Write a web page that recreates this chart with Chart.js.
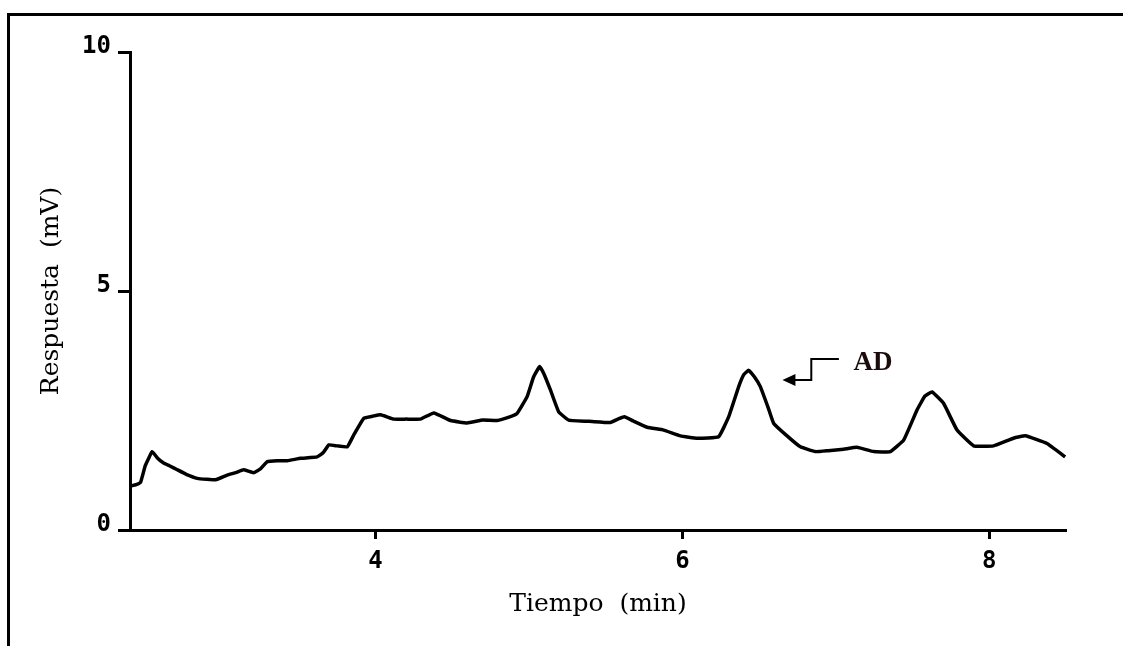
<!DOCTYPE html>
<html lang="es">
<head>
    <meta charset="UTF-8">
    <title>Respuesta vs Tiempo</title>
    <script src="https://cdn.jsdelivr.net/npm/chart.js"></script>
    <style>
        html, body { margin: 0; padding: 0; background: #fff; }
        #wrap { position: relative; width: 1123px; height: 646px; overflow: hidden; }
        #frame { position: absolute; left: 7px; top: 13px; right: -10px; bottom: -10px;
                 border-top: 3px solid #000; border-left: 3px solid #000; }
        canvas { position: absolute; left: 0; top: 0; }
    </style>
</head>
<body>
    <div id="wrap">
        <div id="frame"></div>
        <canvas id="chrom" width="1123" height="646"></canvas>
    </div>

    <script>
        // Chromatogram trace
        const timeMin = [
            2.404, 2.44, 2.469, 2.50, 2.545, 2.58, 2.619, 2.66, 2.708, 2.77,
            2.839, 2.90, 2.958, 3.034, 3.09, 3.14, 3.205, 3.25, 3.295, 3.36,
            3.425, 3.512, 3.62, 3.66, 3.696, 3.75, 3.816, 3.86, 3.924, 3.98,
            4.033, 4.119, 4.20, 4.293, 4.38, 4.489, 4.597, 4.70, 4.793, 4.87,
            4.923, 4.988, 5.03, 5.07, 5.10, 5.14, 5.194, 5.259, 5.412, 5.531,
            5.58, 5.622, 5.68, 5.77, 5.878, 5.987, 6.096, 6.236, 6.302, 6.367,
            6.40, 6.432, 6.47, 6.508, 6.56, 6.595, 6.682, 6.769, 6.866, 6.95,
            7.051, 7.138, 7.246, 7.355, 7.442, 7.529, 7.58, 7.627, 7.702, 7.79,
            7.898, 8.028, 8.158, 8.235, 8.376, 8.495
        ];
        const responseMv = [
            0.92, 0.95, 1.00, 1.35, 1.64, 1.50, 1.40, 1.34, 1.26, 1.16,
            1.08, 1.06, 1.05, 1.15, 1.20, 1.26, 1.20, 1.28, 1.43, 1.45,
            1.45, 1.50, 1.53, 1.62, 1.78, 1.76, 1.74, 2.00, 2.34, 2.38,
            2.41, 2.32, 2.32, 2.32, 2.45, 2.29, 2.24, 2.30, 2.29, 2.36,
            2.44, 2.79, 3.20, 3.42, 3.25, 2.93, 2.47, 2.30, 2.27, 2.25,
            2.32, 2.37, 2.28, 2.15, 2.09, 1.97, 1.92, 1.95, 2.37, 3.00,
            3.25, 3.34, 3.20, 3.00, 2.55, 2.23, 1.97, 1.74, 1.64, 1.66,
            1.69, 1.73, 1.64, 1.64, 1.88, 2.51, 2.80, 2.89, 2.65, 2.09,
            1.76, 1.76, 1.92, 1.97, 1.81, 1.53
        ];
        const xTicks = [4, 6, 8];
        const yTicks = [0, 5, 10];

        // "AD" callout, in data units: arrow tip, elbow, end, label
        const adLabel = 'AD';
        const adTip = { x: 6.652, y: 3.14 };
        const adElbow = { x: 6.84, y: 3.58 };
        const adEnd = { x: 7.02 };
        const adText = { x: 7.115, y: 3.50 };

        const points = timeMin.map((t, i) => ({ x: t, y: responseMv[i] }));

        const calloutPlugin = {
            id: 'callout',
            afterDatasetsDraw(chart) {
                const { ctx, scales: { x, y } } = chart;
                const tipX = x.getPixelForValue(adTip.x), tipY = y.getPixelForValue(adTip.y);
                const elX = x.getPixelForValue(adElbow.x), elY = y.getPixelForValue(adElbow.y);
                const endX = x.getPixelForValue(adEnd.x);
                ctx.save();
                ctx.strokeStyle = '#000';
                ctx.fillStyle = '#000';
                ctx.lineWidth = 2;
                ctx.beginPath();
                ctx.moveTo(tipX + 12, tipY);
                ctx.lineTo(elX, tipY);
                ctx.lineTo(elX, elY);
                ctx.lineTo(endX, elY);
                ctx.stroke();
                ctx.beginPath();
                ctx.moveTo(tipX, tipY);
                ctx.lineTo(tipX + 13, tipY - 6);
                ctx.lineTo(tipX + 13, tipY + 6);
                ctx.closePath();
                ctx.fill();
                ctx.font = 'bold 27px "Liberation Serif"';
                ctx.textBaseline = 'middle';
                ctx.textAlign = 'left';
                ctx.fillStyle = '#1a0c0c';
                ctx.fillText(adLabel, x.getPixelForValue(adText.x), y.getPixelForValue(adText.y));
                ctx.restore();
            }
        };

        const tickFont = { family: '"DejaVu Sans Mono"', size: 24, weight: 'bold' };
        const titleFont = { family: '"DejaVu Serif"', size: 25, weight: 'normal' };

        new Chart(document.getElementById('chrom'), {
            type: 'line',
            data: {
                datasets: [{
                    data: points,
                    borderColor: '#000',
                    borderWidth: 3.5,
                    pointRadius: 0,
                    tension: 0.1,
                    fill: false
                }]
            },
            options: {
                responsive: false,
                animation: false,
                layout: { padding: { top: 52, right: 57, left: 0, bottom: 0 } },
                plugins: { legend: { display: false }, tooltip: { enabled: false } },
                scales: {
                    x: {
                        type: 'linear',
                        min: 2.4,
                        max: 8.5,
                        afterBuildTicks: s => { s.ticks = xTicks.map(v => ({ value: v })); },
                        afterFit: s => { s.height = 116; },
                        border: { color: '#000', width: 3 },
                        grid: { drawOnChartArea: false, color: '#000', tickLength: 9, tickWidth: 3 },
                        ticks: { color: '#000', font: tickFont, padding: 8, maxRotation: 0 },
                        title: { display: true, text: 'Tiempo  (min)', color: '#000', font: titleFont,
                                 padding: { top: 0, bottom: 27 } }
                    },
                    y: {
                        min: 0,
                        max: 10,
                        afterBuildTicks: s => { s.ticks = yTicks.map(v => ({ value: v })); },
                        afterFit: s => { s.width = 130; },
                        border: { color: '#000', width: 3 },
                        grid: { drawOnChartArea: false, color: '#000', tickLength: 12, tickWidth: 3 },
                        ticks: { color: '#000', font: tickFont, padding: 7, labelOffset: -5 },
                        title: { display: true, text: 'Respuesta  (mV)', color: '#000', font: titleFont,
                                 padding: { top: 36, bottom: 0 } }
                    }
                }
            },
            plugins: [calloutPlugin]
        });
    </script>
</body>
</html>
